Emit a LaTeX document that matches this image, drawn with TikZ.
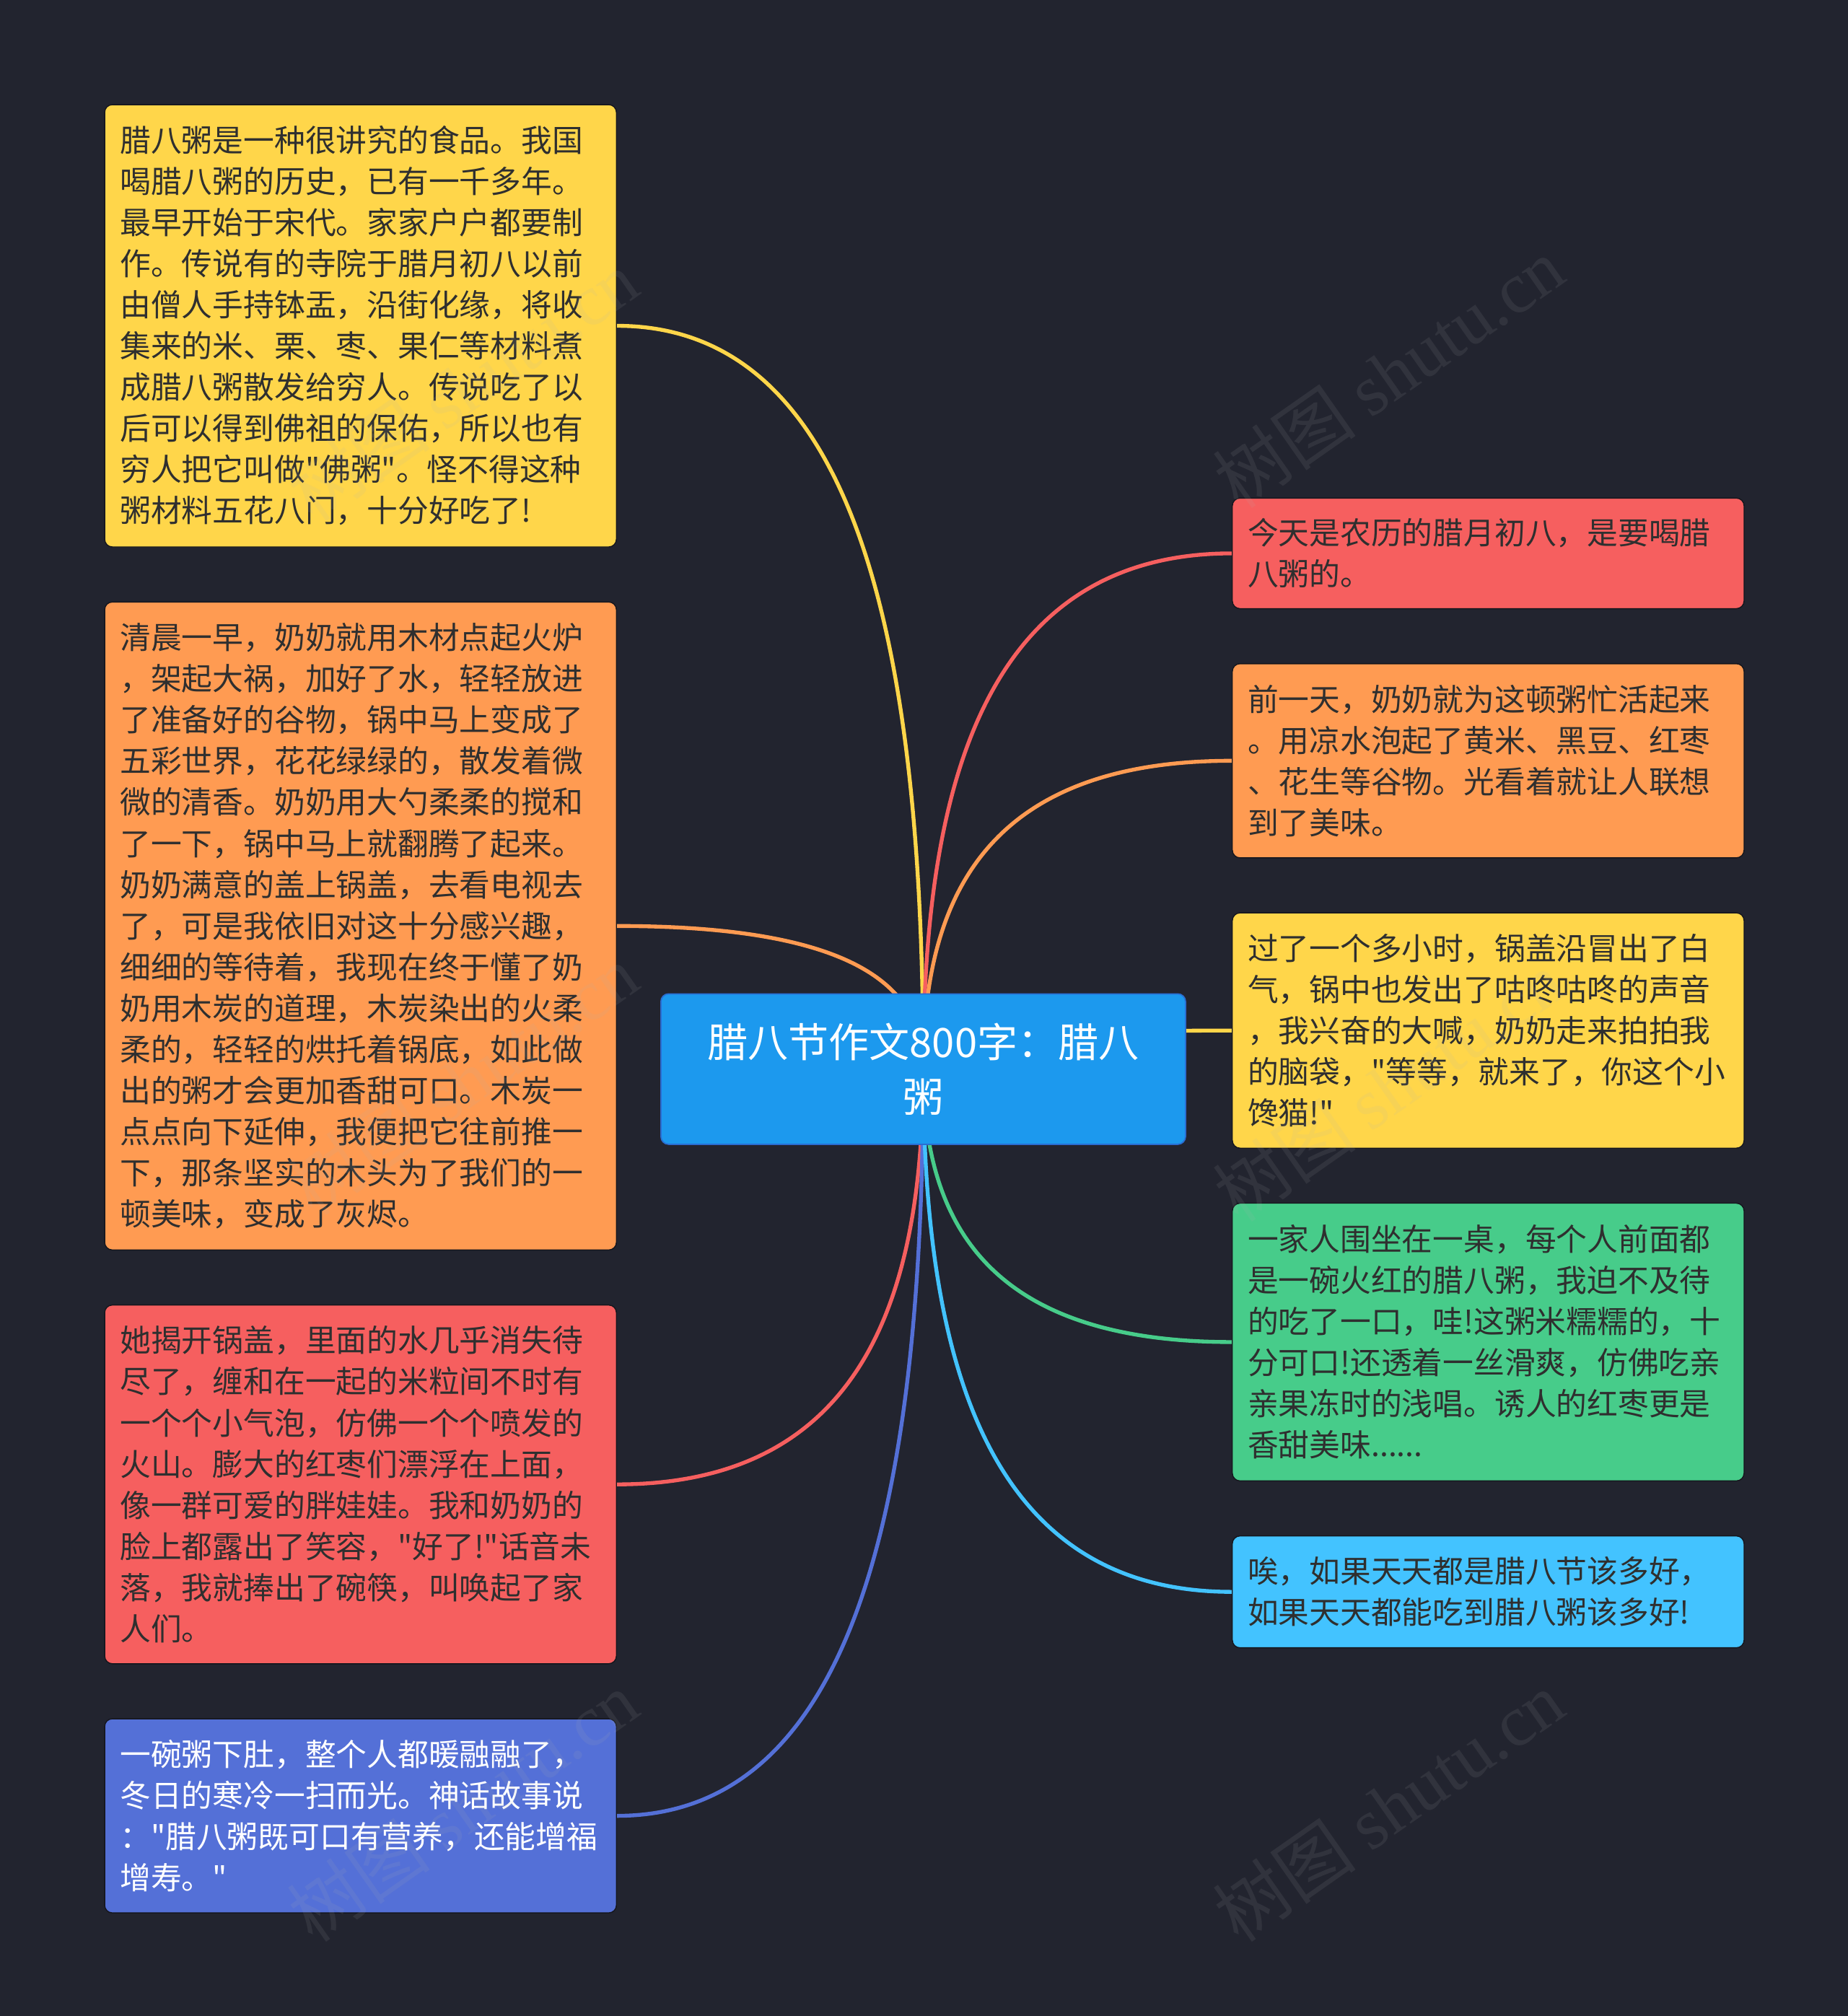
\documentclass[tikz,border=0pt]{standalone}
\usepackage{fontspec}
\setmainfont{Noto Sans CJK SC}[Ligatures=TeXOff]
\newfontfamily\wmfont{Liberation Serif}
\usepackage{tikz}
\usetikzlibrary{positioning,calc,backgrounds}

\definecolor{bgdark}{HTML}{22242F}
\definecolor{edgedark}{HTML}{15161D}
\definecolor{txtdark}{HTML}{2F2F2F}
\definecolor{rootblue}{HTML}{1C99EE}
\definecolor{rootedge}{HTML}{2A6DD2}
\definecolor{yel}{HTML}{FFD64A}
\definecolor{ora}{HTML}{FF9B52}
\definecolor{red}{HTML}{F65F5F}
\definecolor{pur}{HTML}{5470D7}
\definecolor{grn}{HTML}{47CC8A}
\definecolor{cya}{HTML}{43C3FF}

\begin{document}
\begin{tikzpicture}[
    x=1pt, y=1pt,
    node distance=42pt,
    topic/.style={rectangle, rounded corners=6pt, draw=edgedark, line width=0.8pt,
        text width=374pt, inner xsep=12pt, align=left, text=txtdark,
        font=\fontsize{24}{32}\selectfont},
    root/.style={rectangle, rounded corners=6pt, fill=rootblue, draw=rootedge, line width=1pt,
        minimum width=408pt, minimum height=117pt, text width=384pt, align=center,
        text=white, font=\fontsize{31.5}{43}\selectfont},
    link/.style={line width=3pt},
    wmark/.style={rotate=35, text=gray!60, opacity=0.11, font=\fontsize{56}{56}\selectfont}
]
\useasboundingbox (0,0) rectangle (1437,-1568);

% central topic
\node[root] (ctr) at (718,-831.5) {腊八节作文800字：腊八\\粥};

% left column
\node[topic, fill=yel, minimum height=344pt, anchor=north west] (l1) at (81,-81) {%
腊八粥是一种很讲究的食品。我国\\
喝腊八粥的历史，已有一千多年。\\
最早开始于宋代。家家户户都要制\\
作。传说有的寺院于腊月初八以前\\
由僧人手持钵盂，沿街化缘，将收\\
集来的米、栗、枣、果仁等材料煮\\
成腊八粥散发给穷人。传说吃了以\\
后可以得到佛祖的保佑，所以也有\\
穷人把它叫做"佛粥"。怪不得这种\\
粥材料五花八门，十分好吃了!};
\node[topic, fill=ora, minimum height=504pt, below=of l1] (l2) {%
清晨一早，奶奶就用木材点起火炉\\
，架起大祸，加好了水，轻轻放进\\
了准备好的谷物，锅中马上变成了\\
五彩世界，花花绿绿的，散发着微\\
微的清香。奶奶用大勺柔柔的搅和\\
了一下，锅中马上就翻腾了起来。\\
奶奶满意的盖上锅盖，去看电视去\\
了，可是我依旧对这十分感兴趣，\\
细细的等待着，我现在终于懂了奶\\
奶用木炭的道理，木炭染出的火柔\\
柔的，轻轻的烘托着锅底，如此做\\
出的粥才会更加香甜可口。木炭一\\
点点向下延伸，我便把它往前推一\\
下，那条坚实的木头为了我们的一\\
顿美味，变成了灰烬。};
\node[topic, fill=red, minimum height=279pt, below=of l2] (l3) {%
她揭开锅盖，里面的水几乎消失待\\
尽了，缠和在一起的米粒间不时有\\
一个个小气泡，仿佛一个个喷发的\\
火山。膨大的红枣们漂浮在上面，\\
像一群可爱的胖娃娃。我和奶奶的\\
脸上都露出了笑容，"好了!"话音未\\
落，我就捧出了碗筷，叫唤起了家\\
人们。};
\node[topic, fill=pur, text=white, minimum height=151pt, below=of l3] (l4) {%
一碗粥下肚，整个人都暖融融了，\\
冬日的寒冷一扫而光。神话故事说\\
："腊八粥既可口有营养，还能增福\\
增寿。"};

% right column
\node[topic, fill=red, minimum height=86pt, anchor=north west] (r1) at (958,-387) {%
今天是农历的腊月初八，是要喝腊\\
八粥的。};
\node[topic, fill=ora, minimum height=151pt, below=of r1] (r2) {%
前一天，奶奶就为这顿粥忙活起来\\
。用凉水泡起了黄米、黑豆、红枣\\
、花生等谷物。光看着就让人联想\\
到了美味。};
\node[topic, fill=yel, minimum height=183pt, below=of r2] (r3) {%
过了一个多小时，锅盖沿冒出了白\\
气，锅中也发出了咕咚咕咚的声音\\
，我兴奋的大喊，奶奶走来拍拍我\\
的脑袋，"等等，就来了，你这个小\\
馋猫!"};
\node[topic, fill=grn, minimum height=216pt, below=of r3] (r4) {%
一家人围坐在一桌，每个人前面都\\
是一碗火红的腊八粥，我迫不及待\\
的吃了一口，哇!这粥米糯糯的，十\\
分可口!还透着一丝滑爽，仿佛吃亲\\
亲果冻时的浅唱。诱人的红枣更是\\
香甜美味......};
\node[topic, fill=cya, minimum height=87pt, below=of r4] (r5) {%
唉，如果天天都是腊八节该多好，\\
如果天天都能吃到腊八粥该多好!};

% branches behind the boxes
\begin{scope}[on background layer]
  \fill[bgdark] (0,0) rectangle (1437,-1568);
  \foreach \n/\col in {l1/yel, l2/ora, l3/red, l4/pur}
    \draw[link, draw=\col] (\n.east) .. controls ($(\n.east)!0.8!(\n.east -| ctr.center)$)
        and ($(ctr.center)!0.55!(ctr.center |- \n.east)$) .. (ctr.center);
  \foreach \n/\col in {r1/red, r2/ora, r3/yel, r4/grn, r5/cya}
    \draw[link, draw=\col] (\n.west) .. controls ($(\n.west)!0.8!(\n.west -| ctr.center)$)
        and ($(ctr.center)!0.55!(ctr.center |- \n.west)$) .. (ctr.center);
\end{scope}

% watermarks
\foreach \x/\y [count=\i] in {360/-300, 1080/-290, 360/-840, 1080/-845, 360/-1405, 1080/-1405}
  \node[wmark] (wm\i) at (\x,\y) {树图 {\wmfont shutu.cn}};
\end{tikzpicture}
\end{document}
